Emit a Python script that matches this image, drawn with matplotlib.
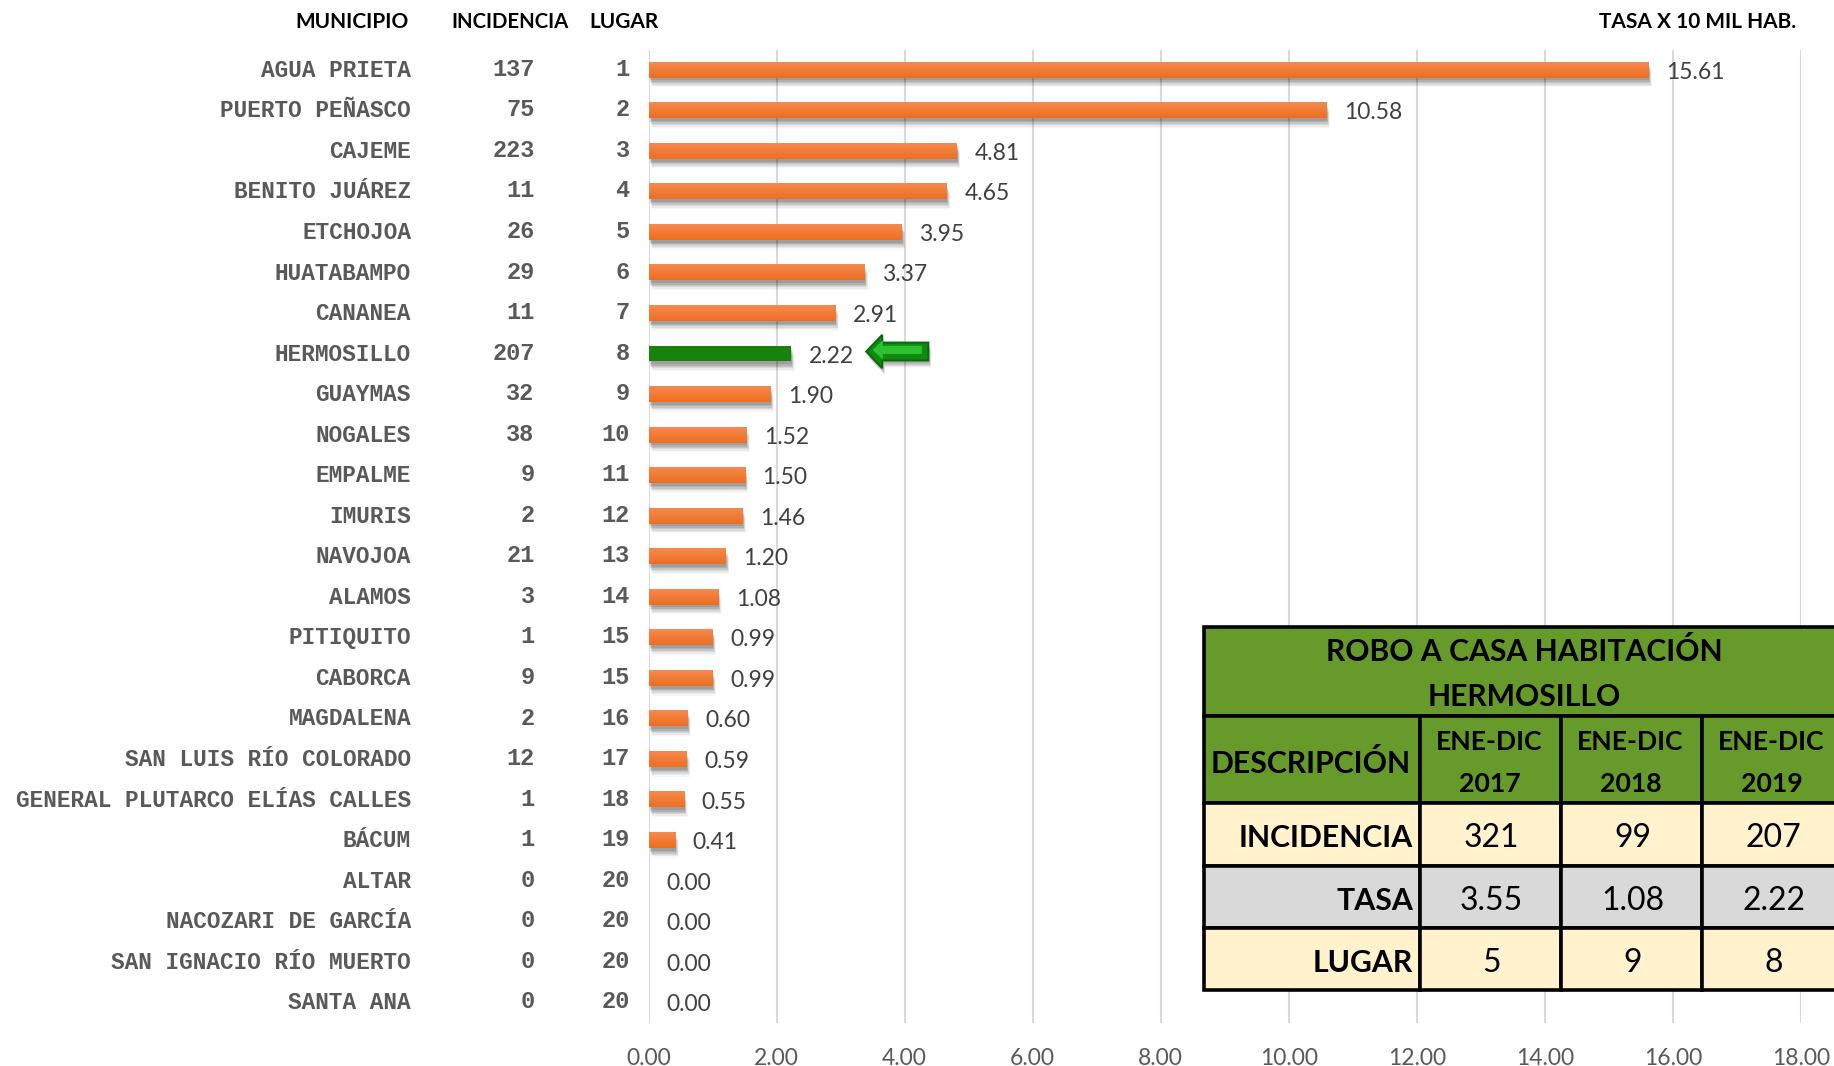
import numpy as np
import matplotlib
matplotlib.use("Agg")
import matplotlib.pyplot as plt
import matplotlib.patheffects as pe
from matplotlib.colors import LinearSegmentedColormap
from matplotlib.patches import FancyArrow, Rectangle
from matplotlib.transforms import ScaledTranslation

# ------------------------------------------------------------------
# Data
# ------------------------------------------------------------------
municipios = [
    "AGUA PRIETA", "PUERTO PEÑASCO", "CAJEME", "BENITO JUÁREZ", "ETCHOJOA",
    "HUATABAMPO", "CANANEA", "HERMOSILLO", "GUAYMAS", "NOGALES", "EMPALME",
    "IMURIS", "NAVOJOA", "ALAMOS", "PITIQUITO", "CABORCA", "MAGDALENA",
    "SAN LUIS RÍO COLORADO", "GENERAL PLUTARCO ELÍAS CALLES", "BÁCUM",
    "ALTAR", "NACOZARI DE GARCÍA", "SAN IGNACIO RÍO MUERTO", "SANTA ANA",
]
incidencia = [137, 75, 223, 11, 26, 29, 11, 207, 32, 38, 9, 2, 21, 3, 1, 9, 2,
              12, 1, 1, 0, 0, 0, 0]
lugar = [1, 2, 3, 4, 5, 6, 7, 8, 9, 10, 11, 12, 13, 14, 15, 15, 16, 17, 18, 19,
         20, 20, 20, 20]
tasa = [15.61, 10.58, 4.81, 4.65, 3.95, 3.37, 2.91, 2.22, 1.90, 1.52, 1.50,
        1.46, 1.20, 1.08, 0.99, 0.99, 0.60, 0.59, 0.55, 0.41, 0.00, 0.00, 0.00,
        0.00]
xticks = [0, 2, 4, 6, 8, 10, 12, 14, 16, 18]

periodos = ["ENE-DIC\n2017", "ENE-DIC\n2018", "ENE-DIC\n2019"]
filas = ["INCIDENCIA", "TASA", "LUGAR"]
tabla = [["321", "99", "207"], ["3.55", "1.08", "2.22"], ["5", "9", "8"]]

# ------------------------------------------------------------------
# Styles
# ------------------------------------------------------------------
GRAY = "#595959"
SANS = "Lato"
MONO = "Liberation Mono"
W, H = 1834, 1066

naranja = LinearSegmentedColormap.from_list("naranja", ["#F58A50", "#EE6E1F"])
grad = np.linspace(0, 1, 32).reshape(-1, 1)

fig = plt.figure(figsize=(W / 100, H / 100), dpi=100)
ax = fig.add_axes([648.5 / W, 1 - 1022.5 / H, (1801 - 648.5) / W, 973 / H])

# ------------------------------------------------------------------
# Bars
# ------------------------------------------------------------------
ypos = np.arange(len(municipios))
bar_h = 0.39
sombra = [pe.SimplePatchShadow(offset=(k * 0.4, -k), shadow_rgbFace="black", alpha=a)
          for k, a in [(7, 0.03), (6, 0.05), (5, 0.07), (4, 0.09), (3, 0.10), (2, 0.10)]]

for i, v in enumerate(tasa):
    color = "#18820A" if municipios[i] == "HERMOSILLO" else "#EE7A33"
    ax.barh(i, v, height=bar_h, color=color, zorder=3,
            path_effects=sombra + [pe.Normal()])
    if municipios[i] != "HERMOSILLO" and v > 0:
        ax.imshow(grad, cmap=naranja, aspect="auto", zorder=4,
                  extent=[0, v, i + bar_h / 2, i - bar_h / 2],
                  interpolation="bilinear")
    ax.annotate(f"{v:.2f}", xy=(v, i), xytext=(13, -1.8), textcoords="offset points",
                va="center", ha="left", fontsize=16.5, color="#404040",
                family=SANS, zorder=5)
    ax.annotate(str(incidencia[i]), xy=(0, i), xytext=(-82, 0.3),
                textcoords="offset points", va="center", ha="right",
                fontsize=17, color=GRAY, family=MONO, fontweight="bold")
    ax.annotate(str(lugar[i]), xy=(0, i), xytext=(-13.5, 0.3),
                textcoords="offset points", va="center", ha="right",
                fontsize=17, color=GRAY, family=MONO, fontweight="bold")

# Arrow next to Hermosillo
flecha = FancyArrow(4.37, 6.95, -0.97, 0, width=0.44, head_width=0.82,
                    head_length=0.25, length_includes_head=True,
                    facecolor="#0F8A12", edgecolor="#0B6A0B", linewidth=1.5,
                    zorder=5, path_effects=sombra[2:] + [pe.Normal()])
ax.add_patch(flecha)
brillo = FancyArrow(4.27, 6.91, -0.77, 0, width=0.2, head_width=0.48,
                    head_length=0.16, length_includes_head=True,
                    facecolor="#2FC02F", edgecolor="none", zorder=6)
ax.add_patch(brillo)

ax.set_xlim(0, 18)
ax.set_ylim(len(municipios) - 0.5, -0.5)
ax.set_xticks(xticks)
ax.set_xticklabels([f"{x:.2f}" for x in xticks], fontsize=16.5, color=GRAY, family=SANS)
ax.set_yticks(ypos)
ax.set_yticklabels(municipios, fontsize=16.35, color=GRAY, family=MONO, fontweight="bold")
ax.tick_params(axis="x", length=0, pad=18.5)
ax.tick_params(axis="y", length=0, pad=171)
subir = ScaledTranslation(0, 1.4 / 72, fig.dpi_scale_trans)
for label in ax.get_yticklabels():
    label.set_transform(label.get_transform() + subir)
ax.grid(True, axis="x", color="#D9D9D9", linewidth=1.5, zorder=0)
ax.set_axisbelow(True)
for side in ax.spines:
    ax.spines[side].set_visible(False)

# ------------------------------------------------------------------
# Overlay in pixel coordinates: headers and summary table
# ------------------------------------------------------------------
top = fig.add_axes([0, 0, 1, 1], zorder=10)
top.set_xlim(0, W)
top.set_ylim(H, 0)
top.axis("off")

for texto, x, ha, fs in [("MUNICIPIO", 409, "right", 15), ("INCIDENCIA", 451, "left", 14.7),
                         ("LUGAR", 589, "left", 15), ("TASA X 10 MIL HAB.", 1796, "right", 15)]:
    top.text(x, 22, texto, ha=ha, va="center", fontsize=fs, fontweight="bold",
             family=SANS, color="black")

col_x = [1204, 1420, 1561, 1702, 1843]
row_y = [627, 716, 803, 866, 928, 990]
VERDE, CREMA, GRIS = "#669A2A", "#FFF2CC", "#D9D9D9"
LW = 2.6


def celda(x0, x1, y0, y1, color):
    top.add_patch(Rectangle((x0, y0), x1 - x0, y1 - y0, facecolor=color,
                            edgecolor="black", linewidth=LW, clip_on=False))


celda(col_x[0], col_x[-1], row_y[0], row_y[1], VERDE)
top.text((col_x[0] + col_x[-1]) / 2 + 1, (row_y[0] + row_y[1]) / 2 + 2.5,
         "ROBO A CASA HABITACIÓN\nHERMOSILLO", ha="center", va="center",
         fontsize=21.7, fontweight="bold", family=SANS, color="black", linespacing=1.76)

celda(col_x[0], col_x[1], row_y[1], row_y[2], VERDE)
top.text((col_x[0] + col_x[1]) / 2 - 1, (row_y[1] + row_y[2]) / 2 + 4, "DESCRIPCIÓN",
         ha="center", va="center", fontsize=21.8, fontweight="bold", family=SANS)
for c, periodo in enumerate(periodos):
    celda(col_x[c + 1], col_x[c + 2], row_y[1], row_y[2], VERDE)
    top.text((col_x[c + 1] + col_x[c + 2]) / 2 - 1, (row_y[1] + row_y[2]) / 2 + 3.5, periodo,
             ha="center", va="center", fontsize=19.2, fontweight="bold", family=SANS,
             linespacing=1.86)

for r, fila in enumerate(filas):
    color = GRIS if fila == "TASA" else CREMA
    y0, y1 = row_y[r + 2], row_y[r + 3]
    celda(col_x[0], col_x[1], y0, y1, color)
    top.text(col_x[1] - 7, (y0 + y1) / 2 + 3.5, fila, ha="right", va="center",
             fontsize=21.8, fontweight="bold", family=SANS)
    for c, valor in enumerate(tabla[r]):
        celda(col_x[c + 1], col_x[c + 2], y0, y1, color)
        top.text((col_x[c + 1] + col_x[c + 2]) / 2 + 1, (y0 + y1) / 2 + 3.5, valor,
                 ha="center", va="center", fontsize=23, family=SANS)

fig.savefig("out.png", dpi=100, facecolor="white")
